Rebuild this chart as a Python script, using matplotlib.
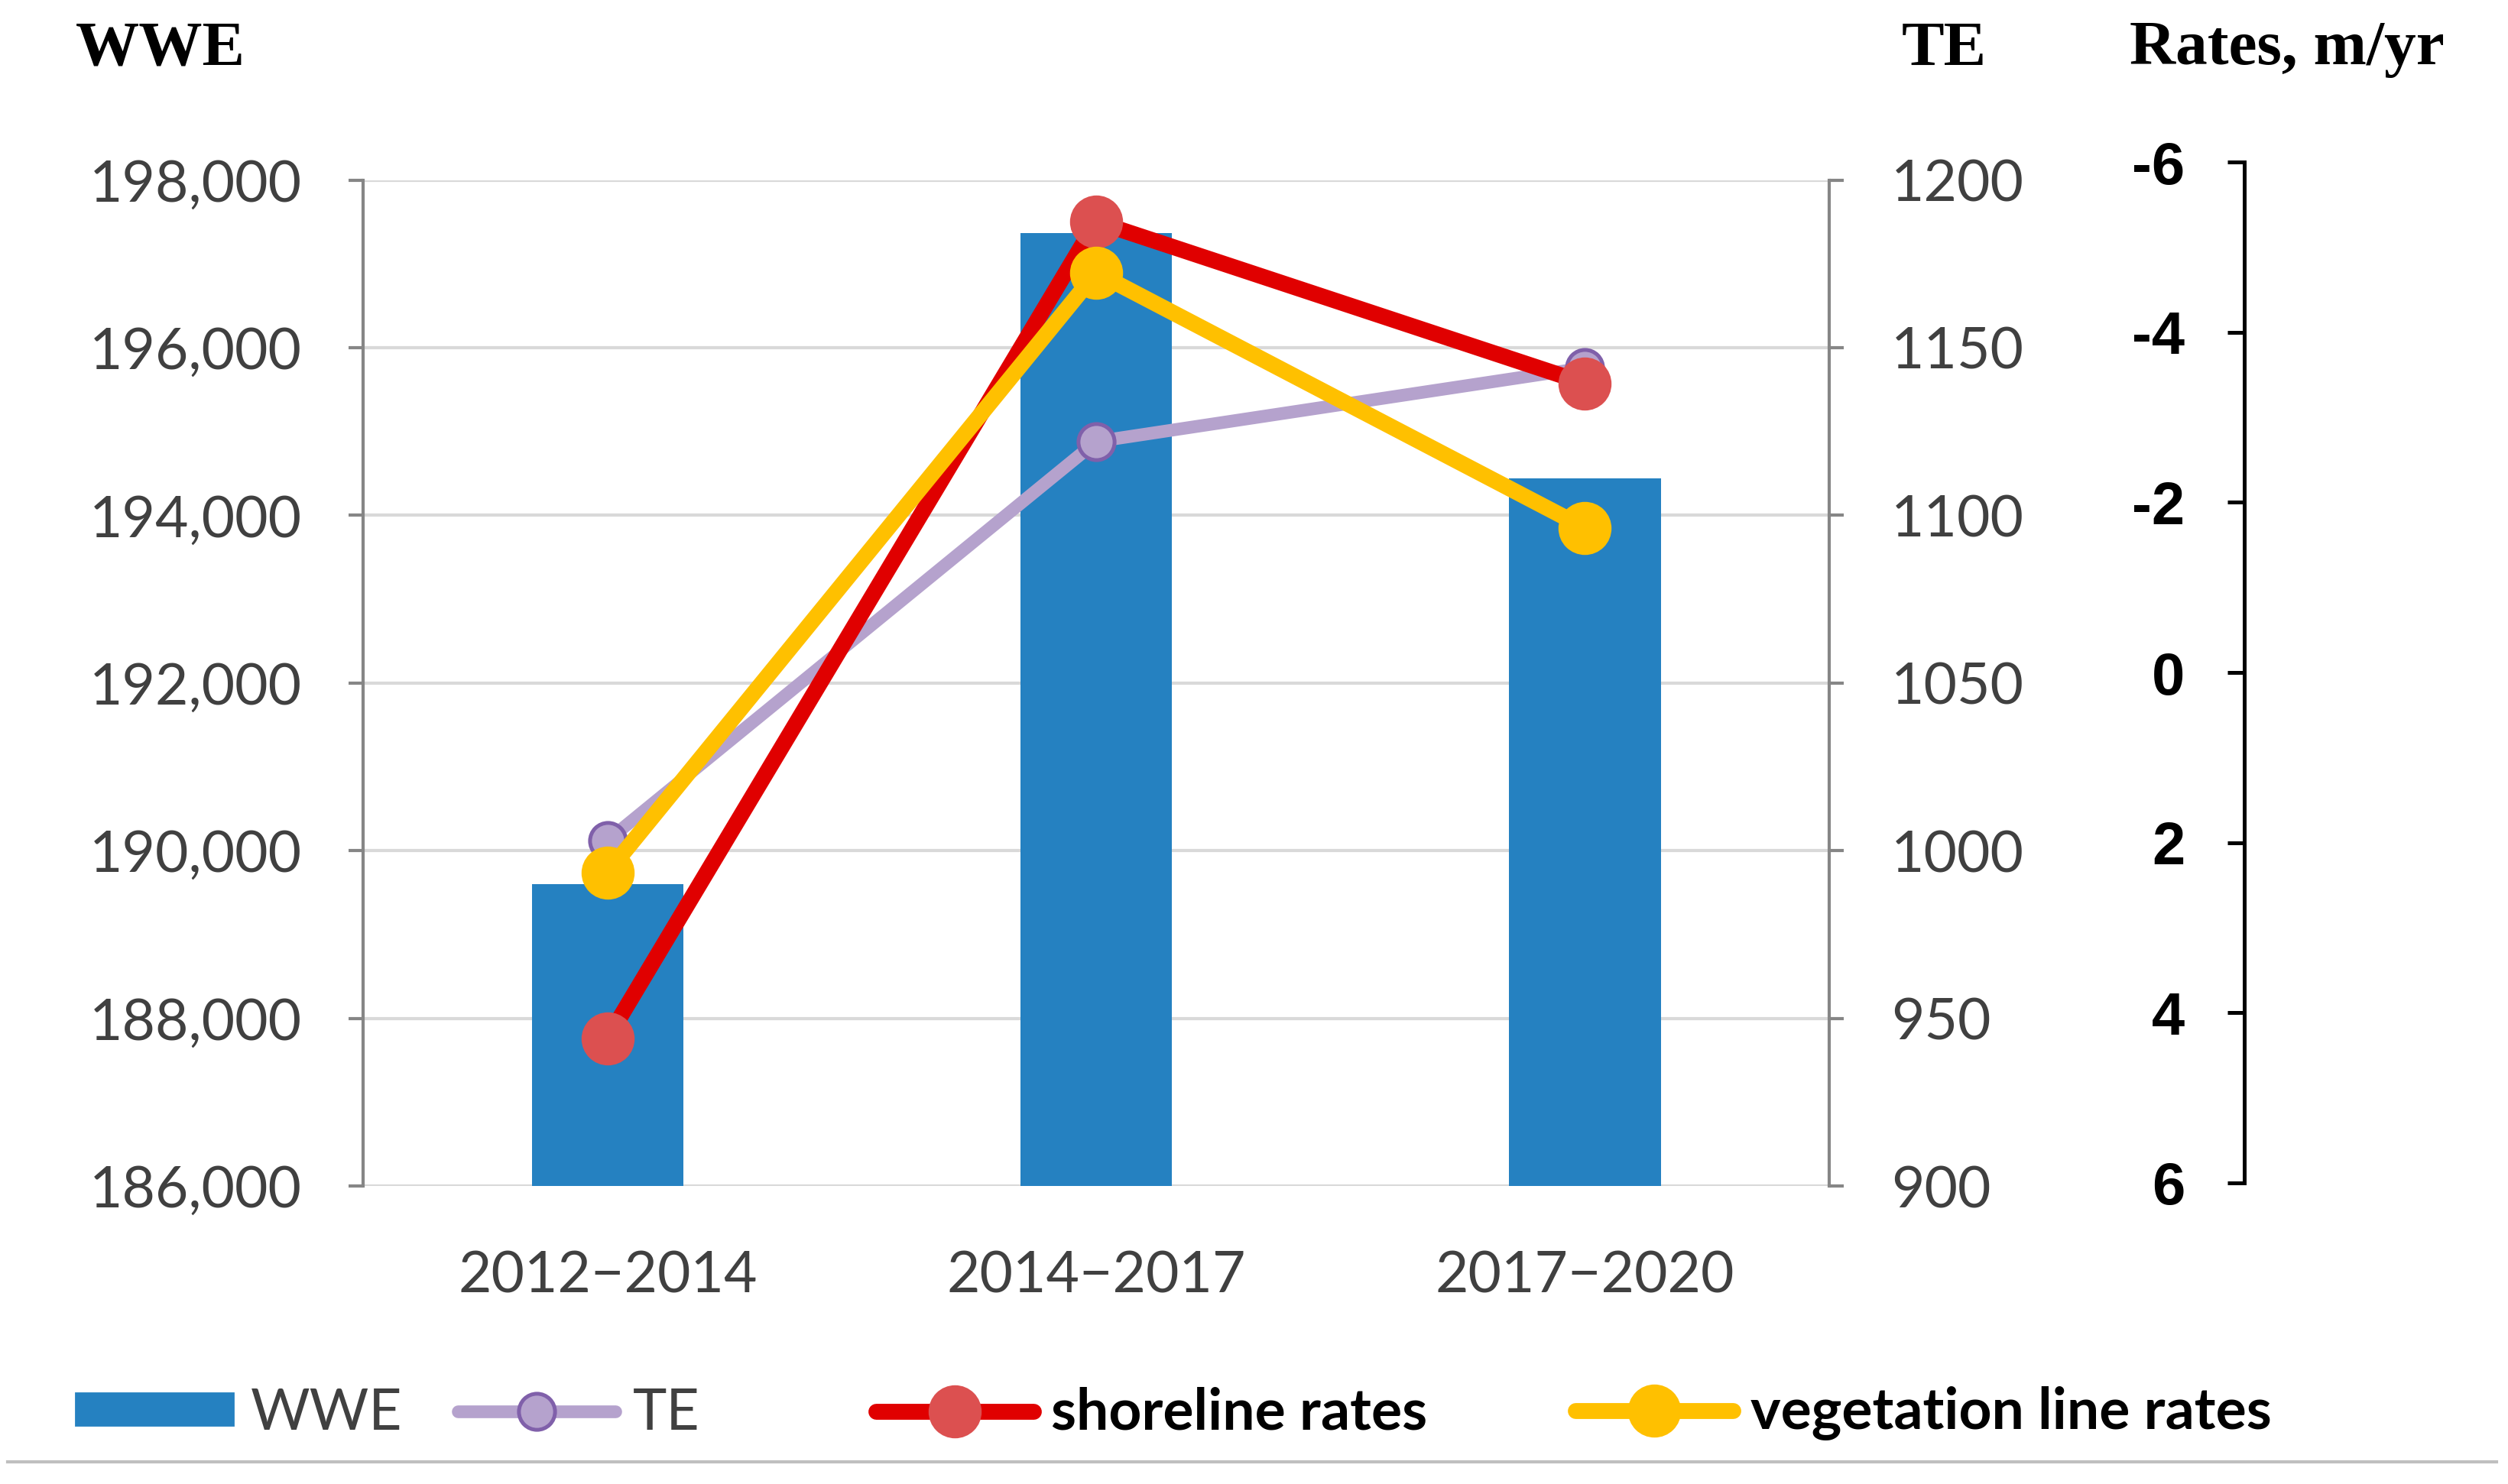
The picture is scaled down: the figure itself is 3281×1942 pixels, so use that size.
import matplotlib
matplotlib.use('Agg')
import matplotlib.pyplot as plt
from matplotlib.lines import Line2D
from matplotlib.patches import Patch
from matplotlib.ticker import FuncFormatter

# --- data ---
periods = ['2012\u22122014', '2014\u22122017', '2017\u22122020']
wwe = [189600, 197370, 194440]
te = [1003, 1122, 1144]
shoreline_rates = [4.3, -5.3, -3.4]
vegetation_rates = [2.35, -4.7, -1.7]

wwe_ticks = [186000, 188000, 190000, 192000, 194000, 196000, 198000]
te_ticks = [900, 950, 1000, 1050, 1100, 1150, 1200]
rate_ticks = [-6, -4, -2, 0, 2, 4, 6]

# colours
BAR_BLUE = '#2581c1'
TE_LINE = '#b5a2cd'
TE_EDGE = '#8060aa'
RED_LINE = '#e00000'
RED_MARK = '#dc5050'
YELLOW = '#ffc000'
SPINE_GRAY = '#868686'
GRID_GRAY = '#d9d9d9'
LABEL_GRAY = '#404040'

SANS = ['Lato', 'DejaVu Sans']
SERIF = ['Liberation Serif', 'DejaVu Serif']
TICK_FS = 27

RATE_LW = 7.5
RATE_MS = 24
TE_LW = 6
TE_MS = 17

fig = plt.figure(figsize=(16.405, 9.71), dpi=200)

# main axes: WWE bars
ax = fig.add_axes([0.1448, 0.2008, 0.5846, 0.6779])
x = list(range(len(periods)))
ax.bar(x, wwe, width=0.31, color=BAR_BLUE, zorder=2)
ax.set_xlim(-0.5, 2.5)
ax.set_ylim(186000, 198000)
ax.set_yticks(wwe_ticks)
ax.yaxis.set_major_formatter(FuncFormatter(lambda v, p: f"{v:,.0f}"))
ax.set_xticks(x)
ax.set_xticklabels(periods)
ax.grid(True, axis='y', color=GRID_GRAY, linewidth=1.5, zorder=0)
ax.set_axisbelow(True)
for s in ['top', 'right', 'bottom']:
    ax.spines[s].set_visible(False)
ax.spines['left'].set_color(SPINE_GRAY)
ax.spines['left'].set_linewidth(1.5)
ax.tick_params(axis='y', length=7, width=1.5, color=SPINE_GRAY, pad=22,
               labelsize=TICK_FS, labelcolor=LABEL_GRAY)
ax.tick_params(axis='x', length=0, pad=30, labelsize=TICK_FS, labelcolor=LABEL_GRAY)
for lab in ax.get_xticklabels() + ax.get_yticklabels():
    lab.set_family(SANS)

# TE on right axis
ax2 = ax.twinx()
ax2.plot(x, te, color=TE_LINE, linewidth=TE_LW, marker='o', markersize=TE_MS,
         markerfacecolor=TE_LINE, markeredgecolor=TE_EDGE, markeredgewidth=1.8,
         solid_capstyle='round', solid_joinstyle='round', zorder=3)
ax2.set_ylim(900, 1200)
ax2.set_yticks(te_ticks)
for s in ['top', 'left', 'bottom']:
    ax2.spines[s].set_visible(False)
ax2.spines['right'].set_color(SPINE_GRAY)
ax2.spines['right'].set_linewidth(1.5)
ax2.tick_params(axis='y', length=7, width=1.5, color=SPINE_GRAY, pad=22,
                labelsize=TICK_FS, labelcolor=LABEL_GRAY)
for lab in ax2.get_yticklabels():
    lab.set_family(SANS)

# rates axis (inverted), spine sits further right
ax3 = fig.add_axes([0.1448, 0.2029, 0.5846, 0.6879])
ax3.patch.set_visible(False)
ax3.plot(x, shoreline_rates, color=RED_LINE, linewidth=RATE_LW, marker='o', markersize=RATE_MS,
         markerfacecolor=RED_MARK, markeredgecolor=RED_MARK,
         solid_capstyle='round', solid_joinstyle='round', zorder=3)
ax3.plot(x, vegetation_rates, color=YELLOW, linewidth=RATE_LW, marker='o', markersize=RATE_MS,
         markerfacecolor=YELLOW, markeredgecolor=YELLOW,
         solid_capstyle='round', solid_joinstyle='round', zorder=4)
ax3.set_xlim(-0.5, 2.5)
ax3.set_ylim(6, -6)
ax3.set_xticks([])
ax3.set_yticks(rate_ticks)
ax3.set_yticklabels([str(t) for t in rate_ticks])
for s in ['top', 'right', 'bottom']:
    ax3.spines[s].set_visible(False)
ax3.spines['left'].set_position(('axes', 1.283))
ax3.spines['left'].set_color('black')
ax3.spines['left'].set_linewidth(1.8)
ax3.tick_params(axis='y', length=8, width=1.8, color='black', pad=20,
                labelsize=28, labelcolor='black')
for lab in ax3.get_yticklabels():
    lab.set_family(['Liberation Sans Narrow', 'Liberation Sans', 'DejaVu Sans'])
    lab.set_fontweight('bold')

# axis headers
fig.text(99 / 3281, 1 - 65 / 1942, 'WWE', family=SERIF, fontweight='bold', fontsize=30, va='center')
fig.text(2488 / 3281, 1 - 65 / 1942, 'TE', family=SERIF, fontweight='bold', fontsize=30, va='center')
fig.text(2786 / 3281, 1 - 65 / 1942, 'Rates, m/yr', family=SERIF, fontweight='bold', fontsize=30, va='center')

# legend, one entry at a time so spacing follows the original
handles = [
    (Patch(facecolor=BAR_BLUE, edgecolor=BAR_BLUE), 'WWE', 'normal', 99),
    (Line2D([], [], color=TE_LINE, linewidth=TE_LW, marker='o', markersize=TE_MS,
            markerfacecolor=TE_LINE, markeredgecolor=TE_EDGE, markeredgewidth=1.8,
            solid_capstyle='round'), 'TE', 'normal', 599),
    (Line2D([], [], color=RED_LINE, linewidth=RATE_LW, marker='o', markersize=RATE_MS,
            markerfacecolor=RED_MARK, markeredgecolor=RED_MARK,
            solid_capstyle='round'), 'shoreline rates', 'bold', 1146),
    (Line2D([], [], color=YELLOW, linewidth=RATE_LW, marker='o', markersize=RATE_MS,
            markerfacecolor=YELLOW, markeredgecolor=YELLOW,
            solid_capstyle='round'), 'vegetation line rates', 'bold', 2061),
]
for h, label, weight, left in handles:
    leg = fig.legend([h], [label], loc='center left',
                     bbox_to_anchor=(left / 3281, 1 - 1849 / 1942),
                     frameon=False, borderpad=0, borderaxespad=0,
                     handlelength=2.75, handletextpad=0.3, handleheight=0.5,
                     prop={'family': SANS, 'size': TICK_FS, 'weight': weight})
    for t in leg.get_texts():
        t.set_color('black' if weight == 'bold' else LABEL_GRAY)

# separator line under the legend
fig.add_artist(Line2D([10 / 3281, 3266 / 3281], [1 - 1913 / 1942] * 2,
                      transform=fig.transFigure, color='#bfbfbf', linewidth=1.5))

fig.savefig('out.png', dpi=200, facecolor='white')
